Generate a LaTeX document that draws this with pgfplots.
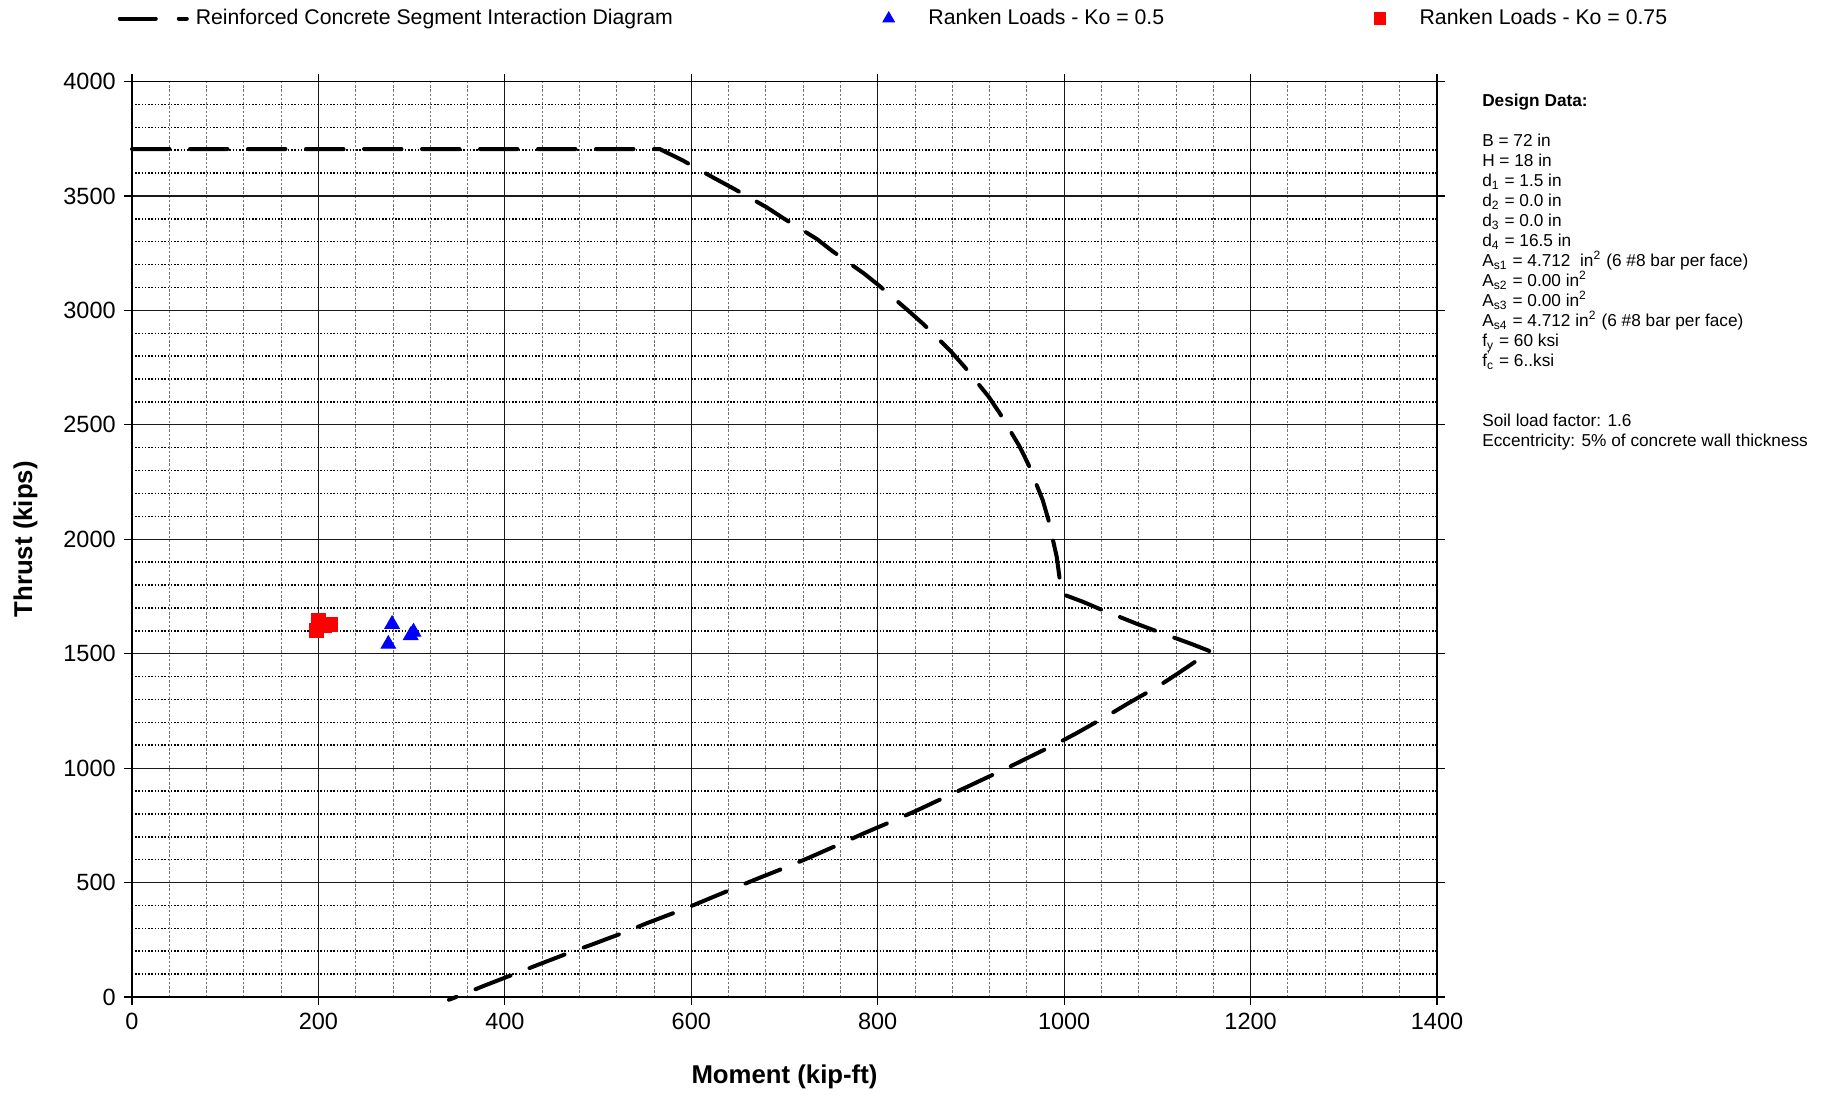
\documentclass[border=0pt]{standalone}
\usepackage{fontspec}
\setmainfont{Liberation Sans}
\usepackage{pgfplots}
\pgfplotsset{compat=1.18}

\begin{document}
\begin{tikzpicture}
\begin{axis}[
  at={(0,0)}, anchor=south west,
  scale only axis, width=522pt, height=366.2pt,
  xmin=0, xmax=1400, ymin=0, ymax=4000,
  xtick distance=200, ytick distance=500,
  minor x tick num=4, minor y tick num=4,
  grid=both,
  major grid style={black!90, line width=0.5pt},
  minor x grid style={black!55, line width=0.4pt, dash pattern=on 1pt off 0.7pt},
  minor y grid style={black, line width=0.6pt, dash pattern=on 0.6pt off 0.7pt},
  axis line style={black, line width=0.6pt},
  tick align=outside, major tick length=3pt, minor tick length=0pt,
  tick style={black, line width=0.5pt},
  scaled ticks=false,
  /pgf/number format/1000 sep={},
  /pgf/number format/assume math mode=true,
  tick label style={font=\fontsize{9.4}{11}\selectfont},
  xlabel={Moment (kip-ft)}, ylabel={Thrust (kips)},
  label style={font=\fontsize{10.3}{12}\selectfont\bfseries},
  x label style={at={(axis description cs:0.5,-0.0868)}, anchor=center},
  y label style={at={(axis description cs:-0.0816,0.5)}, anchor=center},
  clip=false,
  legend columns=3, legend cell align=left,
  legend style={draw=none, fill=none, inner sep=0pt,
    at={(axis description cs:-0.0128,1.0688)}, anchor=west,
    font=\fontsize{8.5}{10}\selectfont,
    /tikz/every even column/.append style={column sep=76.1pt}},
]
\addplot[black, line width=1.6pt, line cap=round, line join=round,
  dash pattern=on 15pt off 8.2pt,
  legend image code/.code={
    \draw[black, line width=1.6pt, line cap=round]
      (0.8pt,0pt) -- (15.2pt,0pt) (24.4pt,0pt) -- (27.6pt,0pt);
    \path (0pt,0pt) (28.4pt,0pt);}]
coordinates {
  (0,3705) (566,3705) (590,3657) (625,3577) (645,3533) (681,3450)
  (699,3402) (735,3311) (751,3260) (785,3162) (801,3110) (833,2998)
  (849,2940) (878,2823) (893,2754) (919,2623) (931,2550) (952,2407)
  (962,2324) (977,2171) (983,2087) (992,1924) (995,1833) (997,1771)
  (1001,1756) (1020,1727) (1039,1694) (1079,1629) (1098,1600)
  (1137,1542) (1157,1510) (1121,1411) (1103,1363) (1067,1279)
  (1049,1235) (1013,1152) (994,1111) (956,1035) (938,999) (900,926)
  (881,890) (843,817) (823,781) (785,715) (766,680) (727,610)
  (708,577) (669,514) (650,482) (611,416) (592,384) (552,322)
  (533,290) (494,230) (474,201) (435,140) (415,108) (377,48)
  (356,13) (340,-12)
};
\addlegendentry{Reinforced Concrete Segment Interaction Diagram}

\addplot[only marks, mark=triangle*, mark size=3.3pt, color=blue, fill=blue,
  legend image code/.code={
    \path (0pt,0pt) (21.7pt,0pt);
    \path[blue, fill=blue, mark=triangle*, mark size=2.6pt] plot coordinates {(8pt,0pt)};}]
coordinates {(279,1629) (275,1542) (302,1595) (299,1580)};
\addlegendentry{Ranken Loads - Ko = 0.5}

\addplot[only marks, mark=square*, mark size=2.8pt, color=red, fill=red,
  legend image code/.code={
    \path (0pt,0pt) (21.7pt,0pt);
    \path[red, fill=red, mark=square*, mark size=2.35pt] plot coordinates {(8pt,0pt)};}]
coordinates {(200,1645) (213,1627) (198,1603) (207,1625)};
\addlegendentry{Ranken Loads - Ko = 0.75}
\end{axis}

% design data box, one node per line (baselines 8pt apart)
\begin{scope}[every node/.style={anchor=base west, inner sep=0pt,
    font=\fontsize{6.9}{8}\selectfont}]
\node at (539.9pt,356.1pt) {\bfseries Design Data:};
\node at (539.9pt,340.1pt) {B = 72 in};
\node at (539.9pt,332.1pt) {H = 18 in};
\node at (539.9pt,324.1pt) {d\textsubscript{1} = 1.5 in};
\node at (539.9pt,316.1pt) {d\textsubscript{2} = 0.0 in};
\node at (539.9pt,308.1pt) {d\textsubscript{3} = 0.0 in};
\node at (539.9pt,300.1pt) {d\textsubscript{4} = 16.5 in};
\node at (539.9pt,292.1pt) {A\textsubscript{s1} = 4.712~~in\textsuperscript{2} (6 \#8 bar per face)};
\node at (539.9pt,284.1pt) {A\textsubscript{s2} = 0.00 in\textsuperscript{2}};
\node at (539.9pt,276.1pt) {A\textsubscript{s3} = 0.00 in\textsuperscript{2}};
\node at (539.9pt,268.1pt) {A\textsubscript{s4} = 4.712 in\textsuperscript{2} (6 \#8 bar per face)};
\node at (539.9pt,260.1pt) {f\textsubscript{y} = 60 ksi};
\node at (539.9pt,252.1pt) {f\rlap{\textsuperscript{'}}\textsubscript{c} = 6..ksi};
\node at (539.9pt,228.1pt) {Soil load factor: 1.6};
\node at (539.9pt,220.1pt) {Eccentricity: 5\% of concrete wall thickness};
\end{scope}

\pgfresetboundingbox
\path[use as bounding box] (-52.8pt,-38.8pt) rectangle (678pt,398.8pt);
\end{tikzpicture}
\end{document}
